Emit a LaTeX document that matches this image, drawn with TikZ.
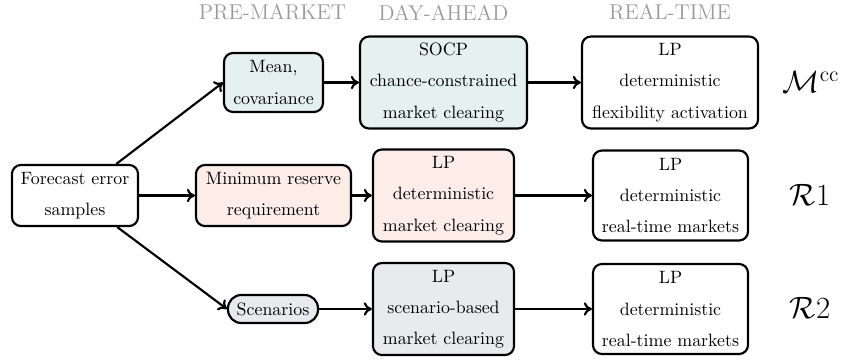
\documentclass[tikz,border=0pt]{standalone}
\usetikzlibrary{arrows.meta}
\definecolor{tealfill}{HTML}{E4F1EE}
\definecolor{pinkfill}{HTML}{FDEDE8}
\definecolor{greyfill}{HTML}{E8EBEE}
\definecolor{headgray}{HTML}{9A9A9A}
\begin{document}
\begin{tikzpicture}[x=0.56pt,y=-0.56pt,
  box/.style={draw, line width=1.2pt, rounded corners=5pt, align=center, inner sep=1pt,
    font=\fontsize{10}{17.5}\selectfont},
  conn/.style={-{Computer Modern Rightarrow[length=4.5pt,width=7.5pt]}, line width=1.2pt},
  head/.style={font=\large, text=headgray},
  lab/.style={font=\fontsize{18.5}{22}\selectfont}]
\useasboundingbox (0,0) rectangle (846,360);
% headers
\node[head] (h1) at (272.5,12.5) {PRE-MARKET};
\node[head] (h2) at (443.5,12.5) {DAY-AHEAD};
\node[head] (h3) at (670,12.5) {REAL-TIME};
% nodes
\node[box, minimum width=70.6pt, minimum height=34.2pt] (fc) at (75,195.5) {Forecast error\\samples};
\node[box, fill=tealfill, minimum width=55.4pt, minimum height=33pt] (mean) at (273.5,82.5) {Mean,\\covariance};
\node[box, fill=pinkfill, minimum width=86.8pt, minimum height=34.2pt] (minr) at (273.5,195.5) {Minimum reserve\\requirement};
\node[box, fill=greyfill, rounded corners=7.5pt, minimum width=50.4pt, minimum height=15.7pt] (scen) at (273,309) {Scenarios};
\node[box, fill=tealfill, minimum width=93.5pt, minimum height=51.5pt] (socp) at (443.5,82.5) {SOCP\\chance-constrained\\market clearing};
\node[box, fill=pinkfill, minimum width=79pt, minimum height=51.5pt] (lpr) at (443.5,195.5) {LP\\deterministic\\market clearing};
\node[box, fill=greyfill, minimum width=79pt, minimum height=51.5pt] (lpg) at (443.5,309) {LP\\scenario-based\\market clearing};
\node[box, minimum width=98.6pt, minimum height=51.5pt] (rt1) at (670,82.5) {LP\\deterministic\\flexibility activation};
\node[box, minimum width=86.8pt, minimum height=50.4pt] (rt2) at (670.5,195.5) {LP\\deterministic\\real-time markets};
\node[box, minimum width=86.8pt, minimum height=50.4pt] (rt3) at (670.5,309) {LP\\deterministic\\real-time markets};
% labels
\node[lab] (l1) at (811,82) {$\mathcal{M}^{\mathrm{cc}}$};
\node[lab] (l2) at (810,195) {$\mathcal{R}1$};
\node[lab] (l3) at (810,308) {$\mathcal{R}2$};
% connectors
\draw[conn] (fc) -- (mean.west);
\draw[conn] (fc) -- (minr);
\draw[conn] (fc) -- (scen.west);
\draw[conn] (mean) -- (socp);
\draw[conn] (minr) -- (lpr);
\draw[conn] (scen) -- (lpg);
\draw[conn] (socp) -- (rt1);
\draw[conn] (lpr) -- (rt2);
\draw[conn] (lpg) -- (rt3);
\end{tikzpicture}
\end{document}
